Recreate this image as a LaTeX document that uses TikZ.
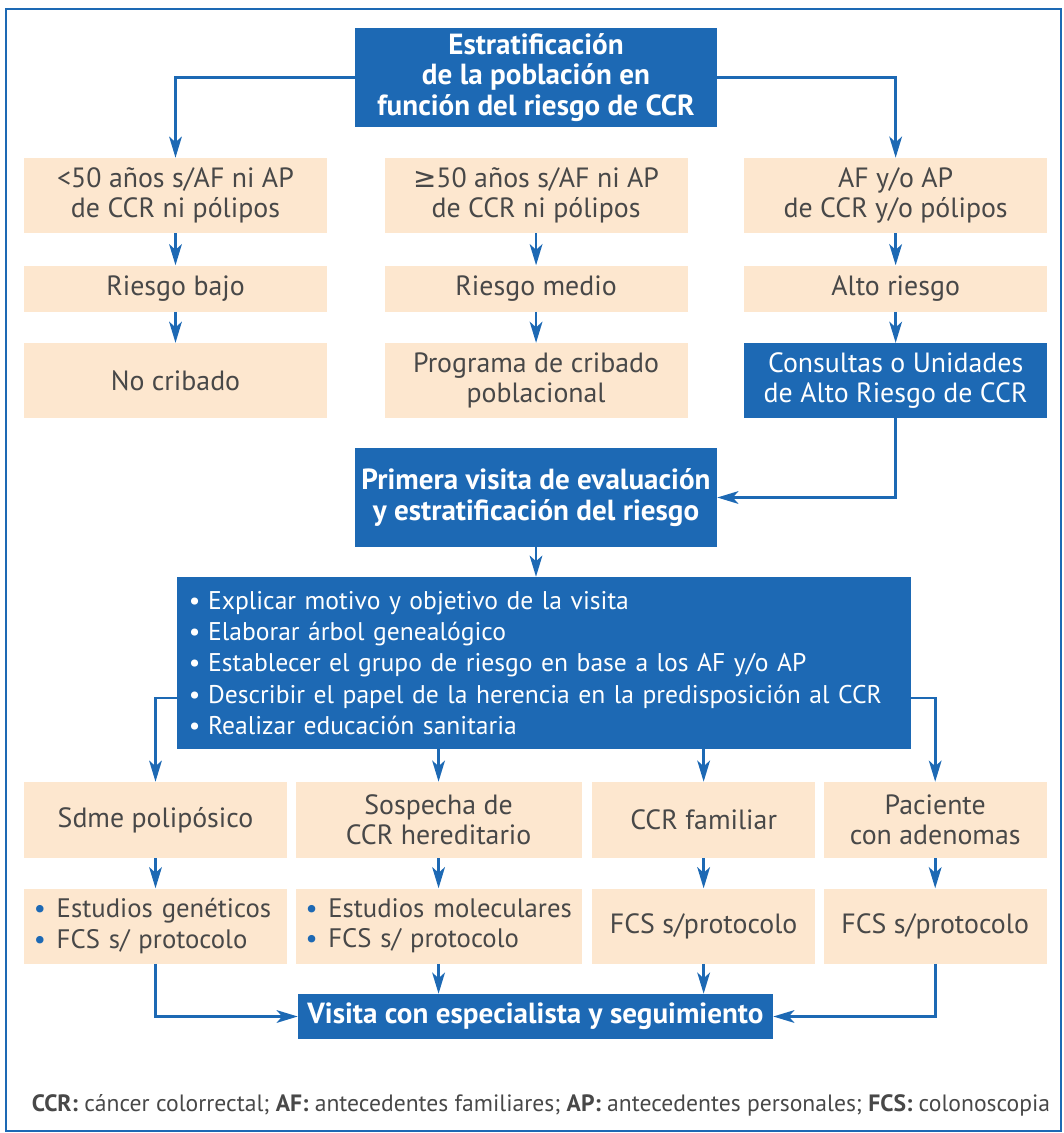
\documentclass[tikz,border=0pt]{standalone}
\usepackage{fontspec}
\setmainfont{PT Sans}
\newfontfamily\symbolfont{DejaVu Sans}
\usetikzlibrary{arrows.meta, positioning, calc}
\definecolor{ccrblue}{RGB}{29,105,180}
\definecolor{ccrpeach}{RGB}{253,231,207}
\definecolor{ccrgray}{RGB}{72,72,72}
\newcommand{\mainsize}{\fontsize{19.8}{21.5}\selectfont}
\newcommand{\headsize}{\fontsize{20.7}{21.8}\selectfont\bfseries}
\newcommand{\blt}{{\color{ccrblue}\textbullet}\hspace{0.4em}}
\newcommand{\wblt}{\textbullet\hspace{0.3em}}

\begin{document}
\begin{tikzpicture}[
  x=0.025cm, y=-0.025cm,
  px size/.style 2 args={minimum width=#1*0.025cm, minimum height=#2*0.025cm},
  bluebox/.style={fill=ccrblue, text=white, align=center, inner sep=0pt,
                  font=\mainsize},
  peachbox/.style={fill=ccrpeach, text=ccrgray, align=center, inner sep=0pt,
                   font=\mainsize},
  listbox/.style={peachbox, align=left, inner xsep=0.25cm,
                  font=\fontsize{19}{21.5}\selectfont},
  arr/.style={-{Stealth[length=15pt, width=9pt, inset=4pt]}, ccrblue,
              line width=2pt},
]
  \useasboundingbox (0,0) rectangle (1064,1133);
  \draw[ccrblue, line width=2pt] (6,9) rectangle (1061,1131);

  % estratificacion
  \node[bluebox, px size={362}{99}, font=\headsize] (estrat) at (536,77.5)
    {Estratificación\\de la población en\\función del riesgo de CCR};

  \node[peachbox, px size={303}{75}] (edadbaja) at (175.5,195.5)
    {<50 años s/AF ni AP\\de CCR ni pólipos};
  \node[peachbox, px size={303}{75}, right=1.425cm of edadbaja] (edadmedia)
    {{\symbolfont ≥}50 años s/AF ni AP\\de CCR ni pólipos};
  \node[peachbox, px size={303}{75}, right=1.4cm of edadmedia] (antec)
    {AF y/o AP\\de CCR y/o pólipos};

  \node[peachbox, px size={303}{46}, below=0.8cm of edadbaja] (rbajo) {Riesgo bajo};
  \node[peachbox, px size={303}{46}, below=0.8cm of edadmedia] (rmedio) {Riesgo medio};
  \node[peachbox, px size={303}{46}, below=0.8cm of antec] (ralto) {Alto riesgo};

  \node[peachbox, px size={303}{75}, below=0.775cm of rbajo] (nocribado) {No cribado};
  \node[peachbox, px size={303}{75}, below=0.775cm of rmedio] (programa)
    {Programa de cribado\\poblacional};
  \node[bluebox, px size={303}{75}, below=0.775cm of ralto] (consultas)
    {Consultas o Unidades\\de Alto Riesgo de CCR};

  \draw[arr] (estrat.west) -| (edadbaja.north);
  \draw[arr] (estrat.east) -| (antec.north);
  \draw[arr] (edadbaja) -- (rbajo);
  \draw[arr] (edadmedia) -- (rmedio);
  \draw[arr] (antec) -- (ralto);
  \draw[arr] (rbajo) -- (nocribado);
  \draw[arr] (rmedio) -- (programa);
  \draw[arr] (ralto) -- (consultas);

  % primera visita
  \node[bluebox, px size={362}{99}, font=\headsize] (primera) at (536,497.5)
    {Primera visita de evaluación\\y estratificación del riesgo};
  \draw[arr] (consultas.south) |- (primera.east);

  \node[bluebox, px size={734}{172}, align=left, inner xsep=0.3cm,
        text width=17.75cm, font=\fontsize{18.2}{22.3}\selectfont] (acciones) at (544,663)
    {\mbox{\wblt Explicar motivo y objetivo de la visita}\\
     \mbox{\wblt Elaborar árbol genealógico}\\
     \mbox{\wblt Establecer el grupo de riesgo en base a los AF y/o AP}\\
     \mbox{\wblt Describir el papel de la herencia en la predisposición al CCR}\\
     \mbox{\wblt Realizar educación sanitaria}};
  \draw[arr] (primera.south) -- (primera.south |- acciones.north);

  % grupos
  \node[peachbox, px size={263}{76}] (sdme) at (155.5,820) {Sdme polipósico};
  \node[peachbox, px size={286}{76}, right=0.2cm of sdme] (sospecha)
    {Sospecha de\\CCR hereditario};
  \node[peachbox, px size={223}{76}, right=0.25cm of sospecha] (familiar) {CCR familiar};
  \node[peachbox, px size={223}{76}, right=0.2cm of familiar] (adenomas)
    {Paciente\\con adenomas};

  \draw[arr] ($(acciones.west)+(0,35)$) -| (sdme.north);
  \draw[arr] ($(acciones.east)+(0,35)$) -| (adenomas.north);
  \draw[arr] (sospecha.north |- acciones.south) -- (sospecha.north);
  \draw[arr] (familiar.north |- acciones.south) -- (familiar.north);

  \node[listbox, px size={263}{75}, text width=6.075cm, below=0.75cm of sdme] (genet)
    {\mbox{\blt Estudios genéticos}\\\mbox{\blt FCS s/ protocolo}};
  \node[listbox, px size={286}{75}, text width=6.65cm, below=0.75cm of sospecha] (molec)
    {\mbox{\blt Estudios moleculares}\\\mbox{\blt FCS s/ protocolo}};
  \node[peachbox, px size={223}{75}, below=0.75cm of familiar] (fcsfam) {FCS s/protocolo};
  \node[peachbox, px size={223}{75}, below=0.75cm of adenomas] (fcsaden) {FCS s/protocolo};

  \draw[arr] (sdme) -- (genet);
  \draw[arr] (sospecha) -- (molec);
  \draw[arr] (familiar) -- (fcsfam);
  \draw[arr] (adenomas) -- (fcsaden);

  % seguimiento
  \node[bluebox, px size={475}{45}, font=\headsize] (visita) at (535.5,1016.5)
    {Visita con especialista y seguimiento};
  \draw[arr] (genet.south) |- (visita.west);
  \draw[arr] (fcsaden.south) |- (visita.east);
  \draw[arr] (molec.south) -- (molec.south |- visita.north);
  \draw[arr] (fcsfam.south) -- (fcsfam.south |- visita.north);

  \node[text=ccrgray, font=\fontsize{16.8}{19}\selectfont] (nota) at (541,1105)
    {\textbf{CCR:} cáncer colorrectal; \textbf{AF:} antecedentes familiares;
     \textbf{AP:} antecedentes personales; \textbf{FCS:} colonoscopia};
\end{tikzpicture}
\end{document}
